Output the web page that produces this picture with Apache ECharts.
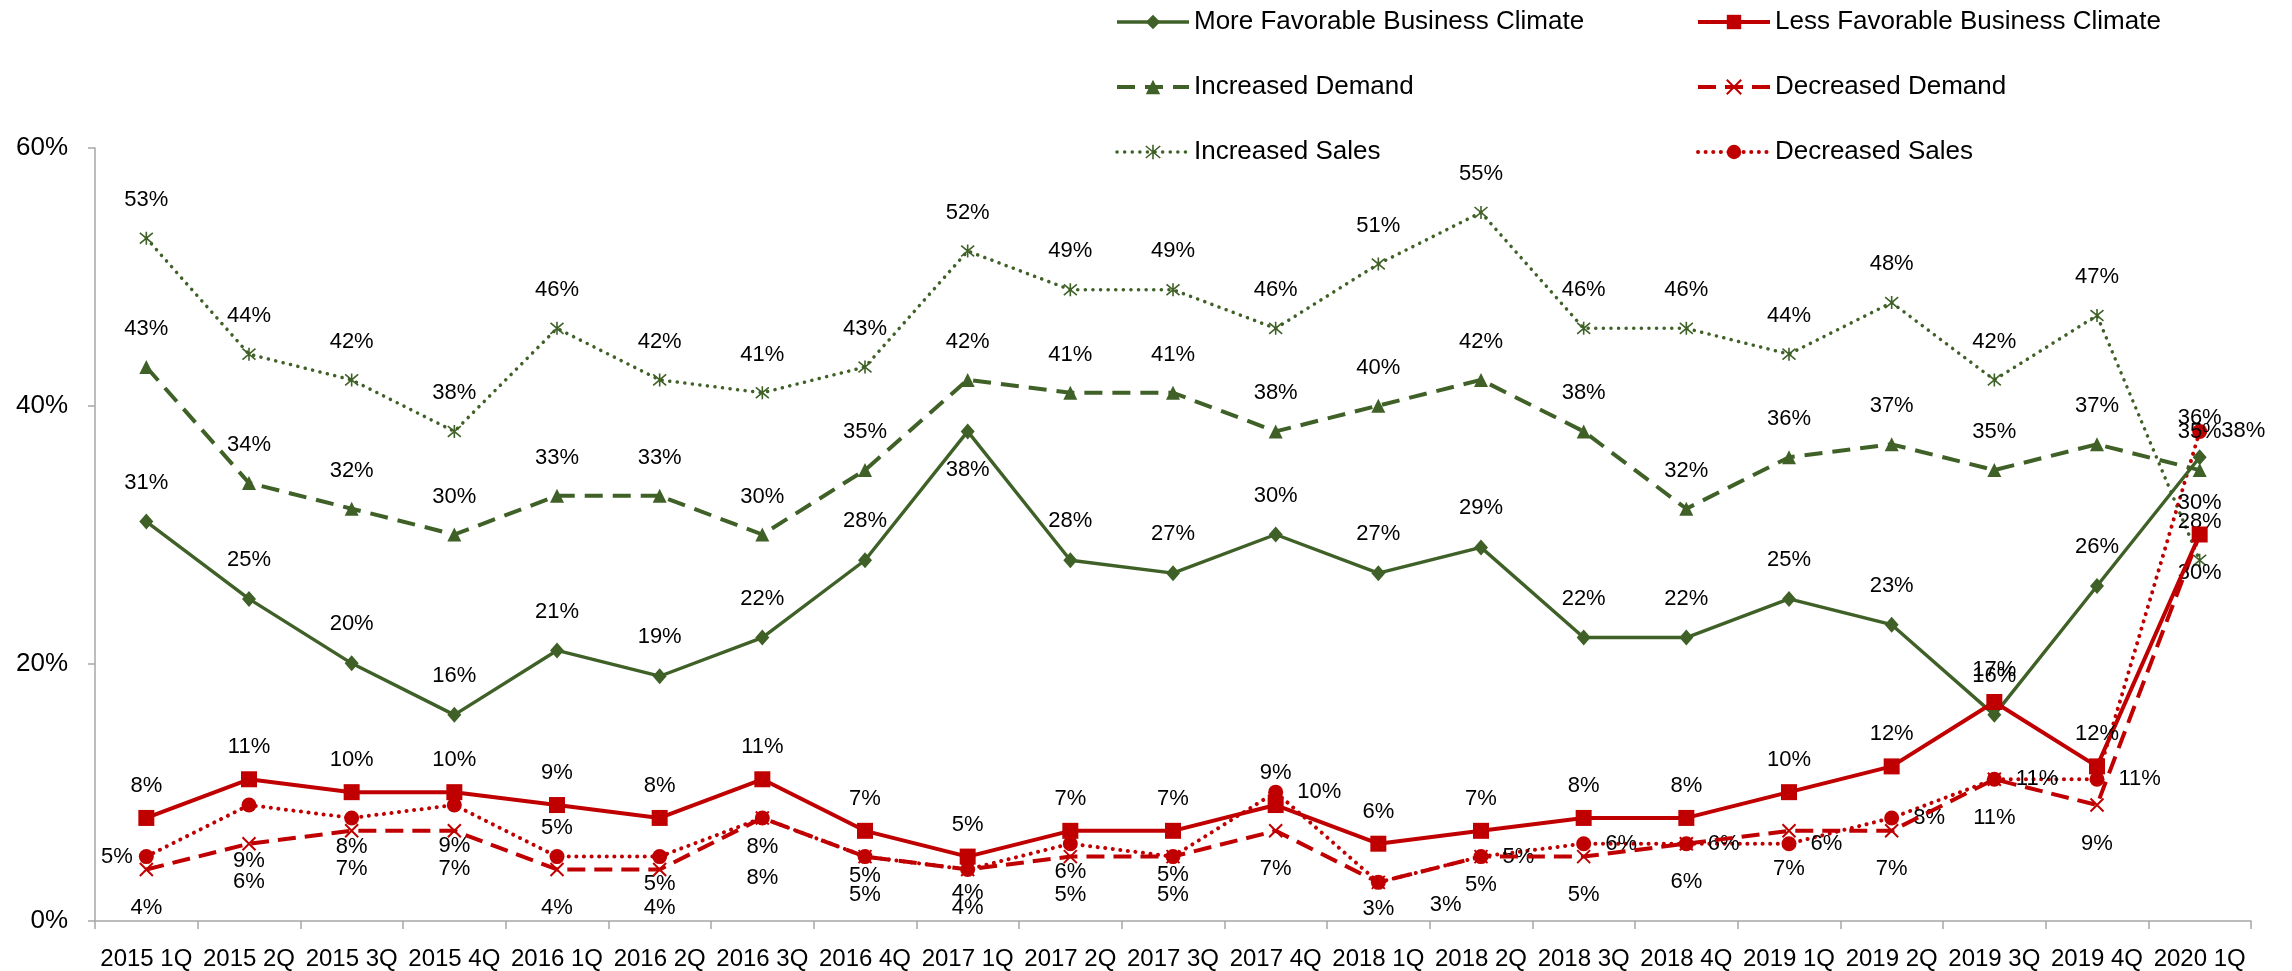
<!DOCTYPE html>
<html>
<head>
<meta charset="utf-8">
<title>Business Climate, Demand and Sales Outlook</title>
<script src="https://cdn.jsdelivr.net/npm/echarts@6/dist/echarts.min.js"></script>
<style>
  html, body { margin: 0; padding: 0; background: #ffffff; }
  #chart { width: 2292px; height: 971px; }
</style>
</head>
<body>
<div id="chart"></div>
<script>
// Quarterly survey results, in percent of respondents
const categories = ['2015 1Q', '2015 2Q', '2015 3Q', '2015 4Q', '2016 1Q', '2016 2Q', '2016 3Q',
  '2016 4Q', '2017 1Q', '2017 2Q', '2017 3Q', '2017 4Q', '2018 1Q', '2018 2Q', '2018 3Q',
  '2018 4Q', '2019 1Q', '2019 2Q', '2019 3Q', '2019 4Q', '2020 1Q'];

const moreFavorable   = [31, 25, 20, 16, 21, 19, 22, 28, 38, 28, 27, 30, 27, 29, 22, 22, 25, 23, 16, 26, 36];
const lessFavorable   = [8, 11, 10, 10, 9, 8, 11, 7, 5, 7, 7, 9, 6, 7, 8, 8, 10, 12, 17, 12, 30];
const increasedDemand = [43, 34, 32, 30, 33, 33, 30, 35, 42, 41, 41, 38, 40, 42, 38, 32, 36, 37, 35, 37, 35];
const decreasedDemand = [4, 6, 7, 7, 4, 4, 8, 5, 4, 5, 5, 7, 3, 5, 5, 6, 7, 7, 11, 9, 30];
const increasedSales  = [53, 44, 42, 38, 46, 42, 41, 43, 52, 49, 49, 46, 51, 55, 46, 46, 44, 48, 42, 47, 28];
const decreasedSales  = [5, 9, 8, 9, 5, 5, 8, 5, 4, 6, 5, 10, 3, 5, 6, 6, 6, 8, 11, 11, 38];

const yTicks = [0, 20, 40, 60];

// Label placement for points whose labels are moved off the series default
const moreFavorableLabels = { 8: { position: 'bottom' } };
const decreasedDemandLabels = { 6: { distance: 42 }, 12: { distance: 8 }, 13: { distance: 10 } };
const decreasedSalesLabels = {
  0: { position: 'left', distance: 6 },
  1: { position: 'bottom', distance: 37 },
  2: { position: 'bottom', distance: 11 },
  3: { position: 'bottom', distance: 22 },
  4: { position: 'top', distance: 10 },
  5: { position: 'bottom', distance: 9 },
  6: { position: 'bottom', distance: 11 },
  7: { position: 'bottom', distance: 1 },
  8: { position: 'bottom', distance: 5 },
  9: { position: 'bottom', distance: 10 },
  10: { position: 'bottom', distance: 0 },
  12: { position: 'right', distance: 14, offset: [30, 23] }
};

const GREEN = '#3F6127';
const RED = '#C00000';
const FONT = "'Liberation Sans', Arial, sans-serif";

const SYMBOL_X = 'path://M0,0L10,10M10,0L0,10';
const SYMBOL_STAR = 'path://M0,0L10,10M10,0L0,10M5,-1L5,11';

const labelBase = {
  show: true,
  formatter: '{c}%',
  color: '#000000',
  fontFamily: FONT,
  fontSize: 22
};

function withLabels(values, overrides) {
  return values.map((v, i) => (overrides[i] ? { value: v, label: overrides[i] } : v));
}

const chart = echarts.init(document.getElementById('chart'), null, { renderer: 'canvas' });

const legendBase = {
  orient: 'vertical',
  top: 2,
  itemWidth: 72,
  itemHeight: 18,
  itemGap: 35,
  lineStyle: { width: 'inherit' },
  itemStyle: { borderWidth: 'inherit' },
  textStyle: { fontFamily: FONT, fontSize: 26, color: '#000000', lineHeight: 30 }
};

chart.setOption({
  backgroundColor: '#ffffff',
  animation: false,
  legend: [
    Object.assign({}, legendBase, {
      data: ['More Favorable Business Climate', 'Increased Demand', 'Increased Sales'],
      left: 1110
    }),
    Object.assign({}, legendBase, {
      data: ['Less Favorable Business Climate', 'Decreased Demand', 'Decreased Sales'],
      left: 1691
    })
  ],
  grid: { left: 95, right: 41, top: 148, bottom: 50 },
  xAxis: {
    type: 'category',
    data: categories,
    boundaryGap: true,
    axisLine: { lineStyle: { color: '#A6A6A6', width: 1.5 } },
    axisTick: { show: true, length: 8, lineStyle: { color: '#A6A6A6', width: 1.5 } },
    axisLabel: { fontFamily: FONT, fontSize: 24, color: '#000000', margin: 26, interval: 0 },
    splitLine: { show: false }
  },
  yAxis: {
    type: 'value',
    min: yTicks[0],
    max: yTicks[yTicks.length - 1],
    interval: yTicks[1] - yTicks[0],
    axisLine: { show: true, lineStyle: { color: '#A6A6A6', width: 1.5 } },
    axisTick: { show: true, length: 7, lineStyle: { color: '#A6A6A6', width: 1.5 } },
    axisLabel: { fontFamily: FONT, fontSize: 26, color: '#000000', margin: 27, formatter: '{value}%' },
    splitLine: { show: false }
  },
  series: [
    {
      name: 'More Favorable Business Climate',
      type: 'line',
      data: withLabels(moreFavorable, moreFavorableLabels),
      symbol: 'diamond',
      symbolSize: [14, 16],
      z: 5,
      lineStyle: { color: GREEN, width: 3.4 },
      itemStyle: { color: GREEN },
      label: Object.assign({}, labelBase, { position: 'top', distance: 20 })
    },
    {
      name: 'Less Favorable Business Climate',
      type: 'line',
      data: lessFavorable,
      symbol: 'rect',
      symbolSize: 16,
      z: 5,
      lineStyle: { color: RED, width: 4 },
      itemStyle: { color: RED },
      label: Object.assign({}, labelBase, { position: 'top', distance: 13 })
    },
    {
      name: 'Increased Demand',
      type: 'line',
      data: increasedDemand,
      symbol: 'triangle',
      symbolSize: [14, 14],
      z: 4,
      lineStyle: { color: GREEN, width: 4, type: [18, 10] },
      itemStyle: { color: GREEN },
      label: Object.assign({}, labelBase, { position: 'top', distance: 20 })
    },
    {
      name: 'Decreased Demand',
      type: 'line',
      data: withLabels(decreasedDemand, decreasedDemandLabels),
      symbol: SYMBOL_X,
      symbolSize: 13,
      z: 4,
      lineStyle: { color: RED, width: 4, type: [18, 9] },
      itemStyle: { color: RED, borderColor: RED, borderWidth: 2 },
      label: Object.assign({}, labelBase, { position: 'bottom', distance: 20 })
    },
    {
      name: 'Increased Sales',
      type: 'line',
      data: increasedSales,
      symbol: SYMBOL_STAR,
      symbolSize: 13,
      z: 3,
      lineStyle: { color: GREEN, width: 3.5, type: [0.1, 7.5], cap: 'round' },
      itemStyle: { color: GREEN, borderColor: GREEN, borderWidth: 1.6 },
      label: Object.assign({}, labelBase, { position: 'top', distance: 20 })
    },
    {
      name: 'Decreased Sales',
      type: 'line',
      data: withLabels(decreasedSales, decreasedSalesLabels),
      symbol: 'circle',
      symbolSize: 15,
      z: 3,
      lineStyle: { color: RED, width: 4, type: [0.1, 7.5], cap: 'round' },
      itemStyle: { color: RED },
      label: Object.assign({}, labelBase, { position: 'right', distance: 14 })
    }
  ]
});
</script>
</body>
</html>
